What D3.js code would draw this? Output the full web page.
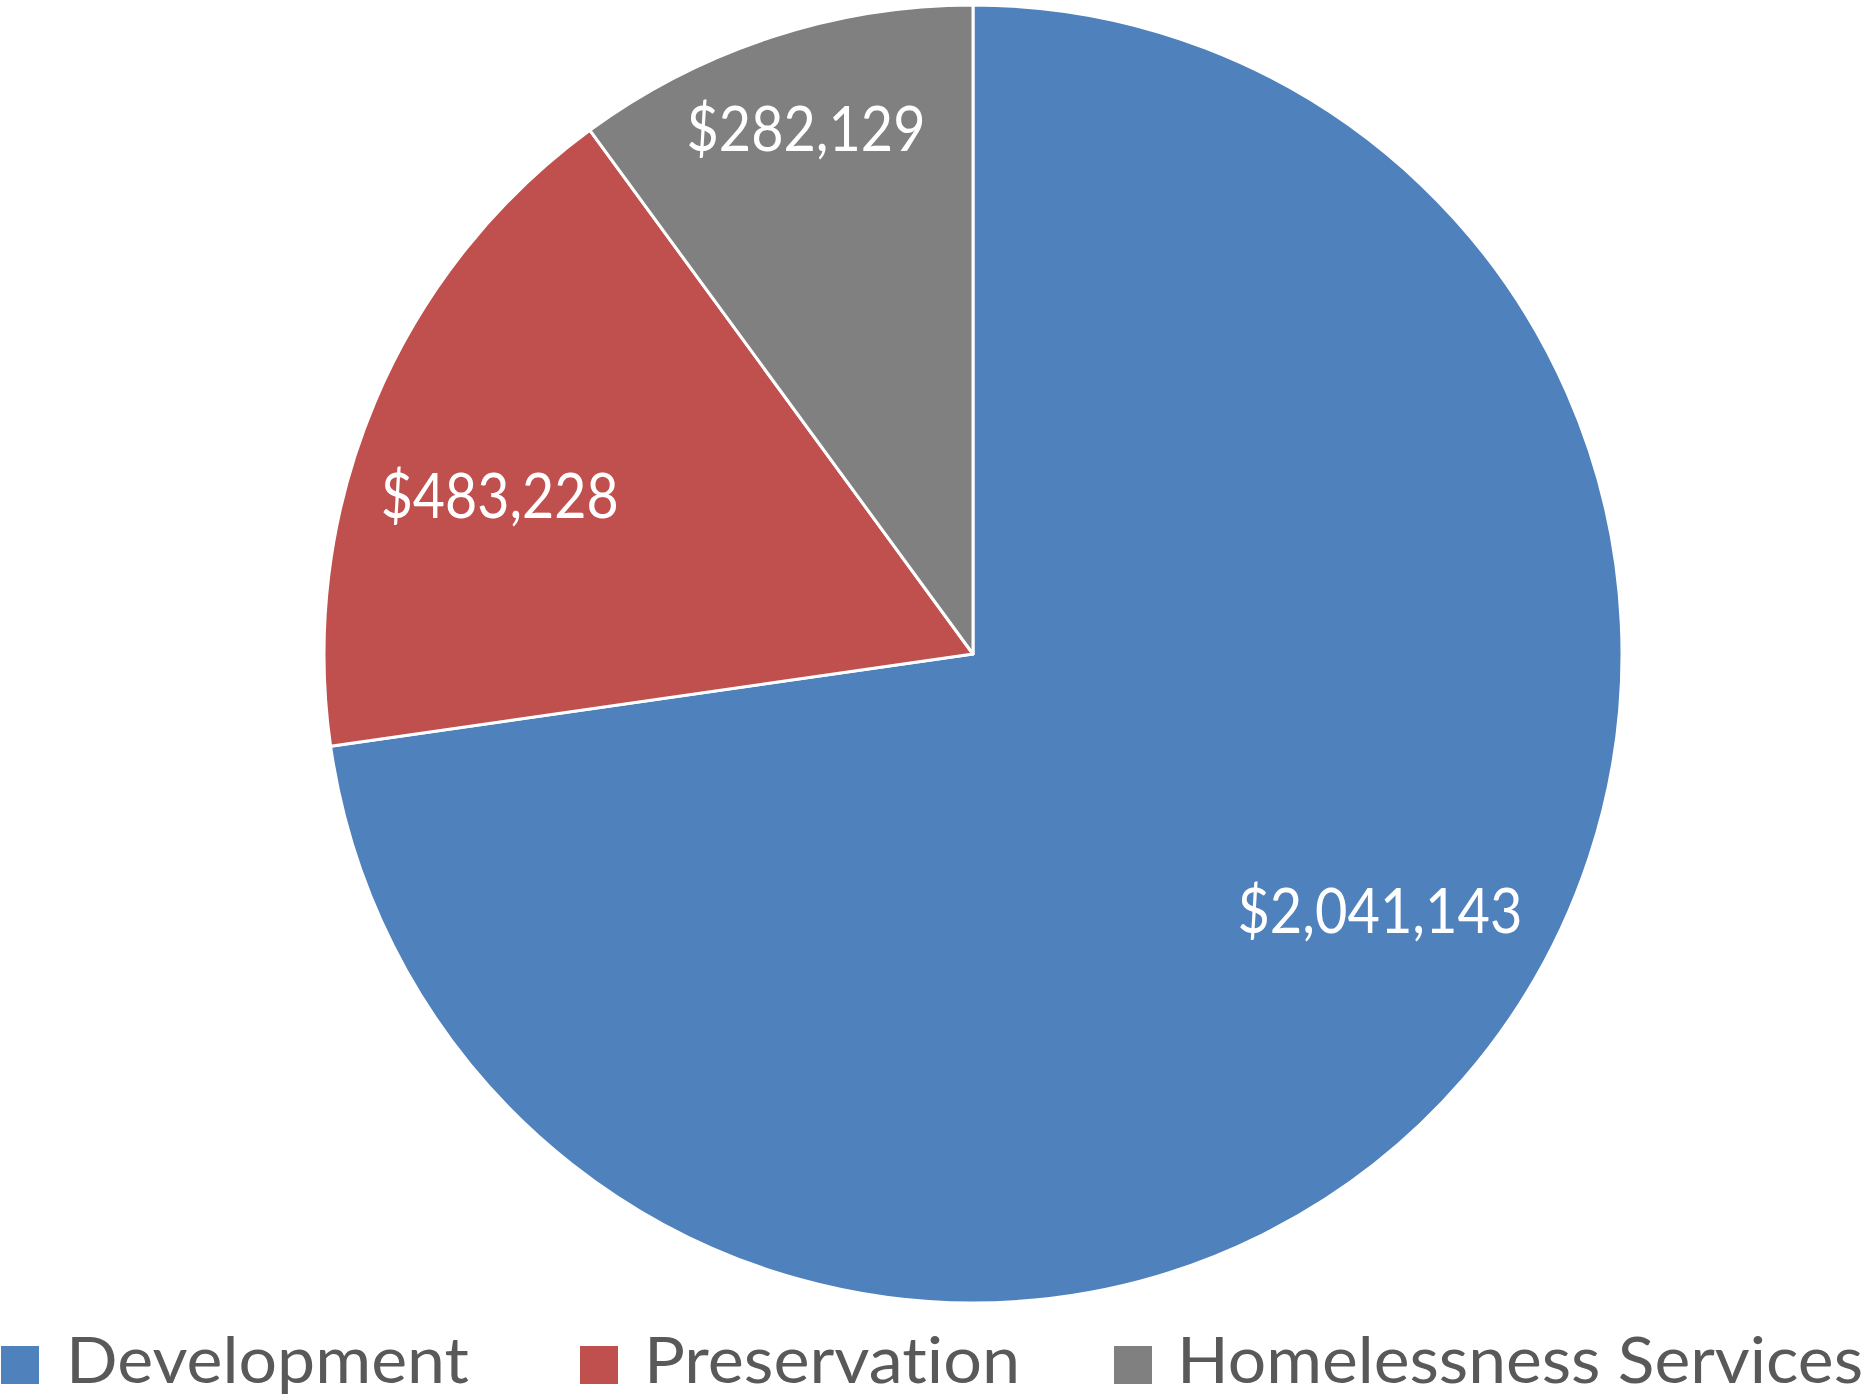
<!DOCTYPE html>
<html>
<head>
<meta charset="utf-8">
<script src="https://cdn.jsdelivr.net/npm/d3@7/dist/d3.min.js"></script>
<style>
  html, body { margin: 0; padding: 0; background: #ffffff; }
  svg { display: block; }
  text { font-variant-ligatures: none; font-feature-settings: "liga" 0, "clig" 0; }
</style>
</head>
<body>
<script>
// ---- data ----
const categories = ["Development", "Preservation", "Homelessness Services"];
const values = [2041143, 483228, 282129];
const colors = ["#4F81BD", "#C0504D", "#808080"];

// ---- layout ----
const W = 1870, H = 1399;
const cx = 973, cy = 654, R = 649;
const labelRadiusFactor = [0.74, 0.77, 0.852];
const labelAngleShift = [-0.154, -0.072, 0.009]; // radians, mimic Excel best-fit
const labelWidths = [285, 238, 239];
const legendWidths = [403, 376, 686];
const fontFamily = "Lato, 'Open Sans', sans-serif";

const svg = d3.select("body").append("svg")
  .attr("width", W).attr("height", H);

const data = categories.map((c, i) => ({ name: c, value: values[i], color: colors[i], i }));

const pie = d3.pie().value(d => d.value).sort(null);
const arcs = pie(data);
const arc = d3.arc().innerRadius(0).outerRadius(R);

const g = svg.append("g").attr("transform", `translate(${cx},${cy})`);

g.selectAll("path.slice").data(arcs).join("path")
  .attr("class", "slice")
  .attr("d", arc)
  .attr("fill", d => d.data.color)
  .attr("stroke", "#ffffff")
  .attr("stroke-width", 3)
  .attr("stroke-linejoin", "round");

const fmt = d3.format("$,");
g.selectAll("text.lbl").data(arcs).join("text")
  .attr("class", "lbl")
  .attr("x", d => {
    const a = (d.startAngle + d.endAngle) / 2 + labelAngleShift[d.data.i];
    return Math.sin(a) * R * labelRadiusFactor[d.data.i];
  })
  .attr("y", d => {
    const a = (d.startAngle + d.endAngle) / 2 + labelAngleShift[d.data.i];
    return -Math.cos(a) * R * labelRadiusFactor[d.data.i];
  })
  .attr("text-anchor", "middle")
  .attr("dominant-baseline", "central")
  .attr("font-family", fontFamily)
  .attr("font-size", 62)
  .attr("textLength", d => labelWidths[d.data.i])
  .attr("lengthAdjust", "spacingAndGlyphs")
  .attr("fill", "#ffffff")
  .text(d => fmt(d.data.value));

// ---- legend ----
const legendX = [1, 580, 1114];
const sq = 38;
const legendY = 1346;
const lg = svg.append("g");
const items = lg.selectAll("g.item").data(data).join("g")
  .attr("class", "item")
  .attr("transform", (d, i) => `translate(${legendX[i]},${legendY})`);
items.append("rect")
  .attr("width", sq).attr("height", sq)
  .attr("fill", d => d.color);
items.append("text")
  .attr("x", (d, i) => [66, 644, 1177][i] - legendX[i])
  .attr("y", 37)
  .attr("font-family", fontFamily)
  .attr("font-size", 64)
  .attr("textLength", (d, i) => legendWidths[i])
  .attr("lengthAdjust", "spacingAndGlyphs")
  .attr("fill", "#595959")
  .text(d => d.name);
</script>
</body>
</html>
